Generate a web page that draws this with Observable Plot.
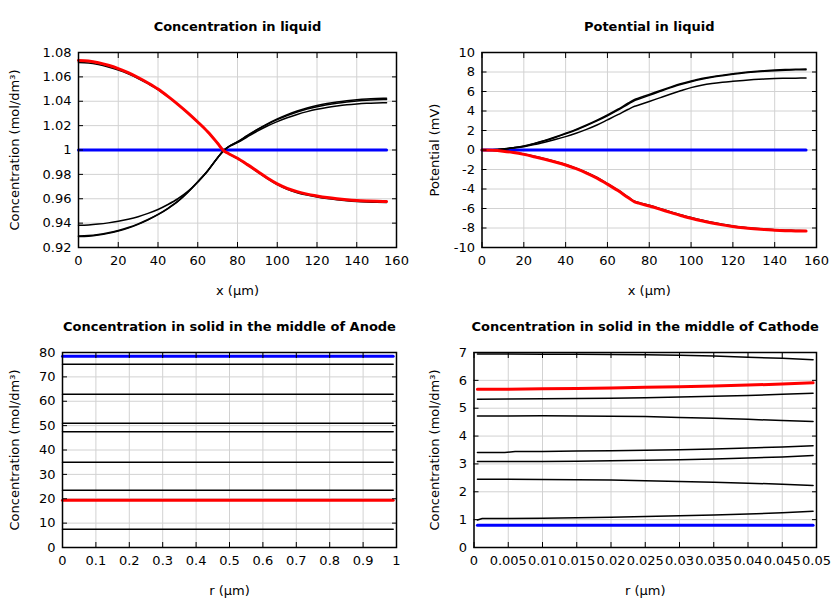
<!DOCTYPE html>
<html>
<head>
<meta charset="utf-8">
<script src="https://cdn.jsdelivr.net/npm/d3@7"></script>
<script src="https://cdn.jsdelivr.net/npm/@observablehq/plot@0.6"></script>
<style>
  body { margin: 0; background: #fff; }
  #wrap { position: relative; width: 840px; height: 600px; background: #fff; }
  .p { position: absolute; }
</style>
</head>
<body>
<div id="wrap"></div>
<script>
// ---------- Panel 1 & 2: liquid profiles (x in µm) ----------
const xLiquid = [0,5,10,15,20,25,30,35,40,45,50,55,60,65,70,73,75,80,85,90,95,100,105,110,115,120,125,130,135,140,145,150,155];
const xLiquidEnds = [0, 155];

const concRed = [1.0735,1.0730,1.0716,1.0695,1.0668,1.0635,1.0595,1.0550,1.0500,1.0440,1.0375,1.0305,1.0230,1.0150,1.0055,0.9995,0.9975,0.9932,0.9880,0.9825,0.9770,0.9722,0.9685,0.9658,0.9638,0.9623,0.9610,0.9600,0.9592,0.9586,0.9582,0.9579,0.9577];
const concBlackB = [1.0718,1.0714,1.0701,1.0681,1.0656,1.0625,1.0587,1.0544,1.0496,1.0437,1.0373,1.0304,1.0229,1.0150,1.0055,0.9995,0.9974,0.9930,0.9877,0.9821,0.9765,0.9716,0.9678,0.9650,0.9630,0.9615,0.9602,0.9592,0.9584,0.9578,0.9574,0.9571,0.9570];
const concBlackC = [0.9295,0.9298,0.9307,0.9321,0.9340,0.9364,0.9394,0.9430,0.9472,0.9522,0.9580,0.9655,0.9740,0.9830,0.9937,0.9995,1.0022,1.0068,1.0120,1.0170,1.0215,1.0255,1.0290,1.0320,1.0345,1.0365,1.0381,1.0394,1.0404,1.0412,1.0418,1.0422,1.0425];
const concBlackD = [0.9290,0.9293,0.9302,0.9316,0.9335,0.9359,0.9390,0.9427,0.9469,0.9519,0.9578,0.9652,0.9737,0.9828,0.9936,0.9995,1.0022,1.0066,1.0117,1.0166,1.0210,1.0249,1.0283,1.0312,1.0336,1.0355,1.0371,1.0384,1.0394,1.0402,1.0408,1.0412,1.0415];
const concBlackE = [0.9382,0.9385,0.9392,0.9402,0.9415,0.9432,0.9453,0.9480,0.9512,0.9553,0.9600,0.9660,0.9738,0.9830,0.9937,0.9995,1.0020,1.0060,1.0108,1.0155,1.0197,1.0233,1.0265,1.0292,1.0315,1.0334,1.0349,1.0361,1.0371,1.0378,1.0383,1.0386,1.0388];
const concBlue = [1.0, 1.0];

const potRed = [0,-0.03,-0.12,-0.26,-0.45,-0.69,-0.95,-1.23,-1.54,-1.92,-2.36,-2.88,-3.50,-4.16,-4.90,-5.32,-5.45,-5.74,-6.06,-6.40,-6.72,-7.00,-7.26,-7.49,-7.68,-7.85,-7.98,-8.08,-8.16,-8.22,-8.27,-8.30,-8.32];
const potBlackB = [0,-0.02,-0.10,-0.23,-0.41,-0.64,-0.89,-1.17,-1.48,-1.86,-2.30,-2.82,-3.44,-4.10,-4.84,-5.26,-5.39,-5.67,-5.99,-6.33,-6.65,-6.93,-7.19,-7.42,-7.62,-7.79,-7.93,-8.03,-8.11,-8.17,-8.22,-8.25,-8.27];
const potBlackC = [0,0.03,0.11,0.24,0.41,0.68,0.98,1.33,1.71,2.12,2.57,3.06,3.60,4.18,4.82,5.18,5.33,5.70,6.08,6.45,6.80,7.08,7.33,7.52,7.68,7.82,7.95,8.05,8.13,8.20,8.25,8.28,8.30];
const potBlackD = [0,0.03,0.11,0.23,0.39,0.65,0.94,1.28,1.65,2.05,2.50,2.98,3.51,4.08,4.71,5.07,5.22,5.60,5.99,6.37,6.72,7.01,7.26,7.46,7.62,7.76,7.89,7.99,8.07,8.14,8.19,8.22,8.24];
const potBlackE = [0,0.02,0.09,0.20,0.34,0.55,0.80,1.07,1.37,1.72,2.12,2.57,3.09,3.62,4.18,4.48,4.62,4.98,5.35,5.72,6.07,6.40,6.64,6.82,6.95,7.05,7.14,7.22,7.28,7.33,7.36,7.37,7.38];
const potBlue = [0, 0];

// ---------- Panel 3: anode solid (r in µm) ----------
const rAnode = [0, 0.99];
const anodeBlue = [78.5, 78.5];
const anodeBlack1 = [75.2, 75.2];
const anodeBlack2 = [62.9, 62.9];
const anodeBlack3 = [51.0, 51.0];
const anodeBlack4 = [47.5, 47.5];
const anodeBlack5 = [35.0, 35.0];
const anodeBlack6 = [23.5, 23.5];
const anodeBlack7 = [7.5, 7.5];
const anodeRed = [19.4, 19.4];

// ---------- Panel 4: cathode solid (r in µm) ----------
const rCathode = [0.0005,0.005,0.01,0.015,0.02,0.025,0.03,0.035,0.04,0.045,0.0495];
const rCathodeB4 = [0.0005,0.0045,0.006,0.01,0.015,0.02,0.025,0.03,0.035,0.04,0.045,0.0495];
const rCathodeB7 = [0.0005,0.0012,0.005,0.01,0.015,0.02,0.025,0.03,0.035,0.04,0.045,0.0495];
const cathBlack1 = [6.95,6.95,6.94,6.94,6.93,6.92,6.90,6.87,6.83,6.79,6.74];
const cathRed    = [5.68,5.68,5.70,5.71,5.73,5.75,5.77,5.80,5.83,5.87,5.91];
const cathBlack2 = [5.32,5.33,5.34,5.35,5.36,5.38,5.40,5.43,5.46,5.50,5.54];
const cathBlack3 = [4.72,4.72,4.73,4.72,4.71,4.70,4.67,4.64,4.60,4.56,4.52];
const cathBlack4 = [3.41,3.41,3.45,3.45,3.46,3.47,3.49,3.51,3.54,3.57,3.61,3.65];
const cathBlack5 = [3.09,3.09,3.09,3.10,3.11,3.13,3.15,3.18,3.21,3.25,3.30];
const cathBlack6 = [2.45,2.45,2.44,2.43,2.42,2.40,2.37,2.34,2.31,2.27,2.23];
const cathBlack7 = [0.99,1.04,1.04,1.05,1.07,1.09,1.11,1.14,1.17,1.20,1.25,1.30];
const rCathodeEnds = [0.0005, 0.0495];
const cathBlue = [0.80, 0.80];

// ---------- ticks ----------
const xTicksLiquid = [0,20,40,60,80,100,120,140,160];
const yTicksConc = [0.92,0.94,0.96,0.98,1.0,1.02,1.04,1.06,1.08];
const yTicksPot = [-10,-8,-6,-4,-2,0,2,4,6,8,10];
const xTicksAnode = [0,0.1,0.2,0.3,0.4,0.5,0.6,0.7,0.8,0.9,1];
const yTicksAnode = [0,10,20,30,40,50,60,70,80];
const xTicksCathode = [0,0.005,0.01,0.015,0.02,0.025,0.03,0.035,0.04,0.045,0.05];
const yTicksCathode = [0,1,2,3,4,5,6,7];

// ---------- helpers ----------
const pts = (xs, ys) => xs.map((x, i) => ({x, y: ys[i]}));
const fmt = d => String(+(+d).toFixed(6));

function panel({left, top, ml, xDomain, yDomain, xTicks, yTicks, title, xLabel, yLabel, yLabelX, series, curve}) {
  const lines = series.map(s => Plot.line(pts(s.x, s.y), {
    x: "x", y: "y", stroke: s.color, strokeWidth: s.w, curve: curve
  }));
  const svg = Plot.plot({
    width: 420, height: 300,
    marginLeft: ml, marginRight: 24, marginTop: 52, marginBottom: 53,
    x: {domain: xDomain, label: null},
    y: {domain: yDomain, label: null},
    style: {fontFamily: "DejaVu Sans", fontSize: "13px", color: "black", background: "white", overflow: "visible"},
    marks: [
      Plot.gridX(xTicks, {stroke: "#d2d2d2", strokeOpacity: 1, strokeWidth: 1}),
      Plot.gridY(yTicks, {stroke: "#d2d2d2", strokeOpacity: 1, strokeWidth: 1}),
      ...lines,
      Plot.axisX(xTicks, {anchor: "bottom", tickSize: -5, tickPadding: 13, tickFormat: fmt, label: null}),
      Plot.axisX(xTicks, {anchor: "top", tickSize: -5, tickFormat: () => "", label: null}),
      Plot.axisY(yTicks, {anchor: "left", tickSize: -5, tickPadding: 12, tickFormat: fmt, label: null}),
      Plot.axisY(yTicks, {anchor: "right", tickSize: -5, tickFormat: () => "", label: null}),
      Plot.frame({stroke: "black", strokeWidth: 1.5}),
      Plot.text([title], {text: d => d, frameAnchor: "top", dy: -26, lineAnchor: "middle", fontWeight: "bold", fontSize: 13}),
      Plot.text([xLabel], {text: d => d, frameAnchor: "bottom", dy: 43, lineAnchor: "middle", fontSize: 13}),
      Plot.text([yLabel], {text: d => d, frameAnchor: "left", dx: yLabelX - ml, rotate: -90, textAnchor: "middle", lineAnchor: "middle", fontSize: 13})
    ]
  });
  const div = document.createElement("div");
  div.className = "p";
  div.style.left = left + "px";
  div.style.top = top + "px";
  div.appendChild(svg);
  document.getElementById("wrap").appendChild(div);
}

const RED = "#ff0000", BLUE = "#0000ff", BLACK = "#000000";

panel({
  left: 0, top: 0, ml: 78, xDomain: [0, 160], yDomain: [0.92, 1.08],
  xTicks: xTicksLiquid, yTicks: yTicksConc,
  title: "Concentration in liquid", xLabel: "x (µm)", yLabel: "Concentration (mol/dm³)", yLabelX: 14,
  curve: "monotone-x",
  series: [
    {x: xLiquidEnds, y: concBlue, color: BLUE, w: 3},
    {x: xLiquid, y: concBlackE, color: BLACK, w: 1.5},
    {x: xLiquid, y: concBlackD, color: BLACK, w: 1.5},
    {x: xLiquid, y: concBlackC, color: BLACK, w: 1.5},
    {x: xLiquid, y: concBlackB, color: BLACK, w: 1.5},
    {x: xLiquid, y: concRed, color: RED, w: 3}
  ]
});

panel({
  left: 420, top: 0, ml: 61.5, xDomain: [0, 160], yDomain: [-10, 10],
  xTicks: xTicksLiquid, yTicks: yTicksPot,
  title: "Potential in liquid", xLabel: "x (µm)", yLabel: "Potential (mV)", yLabelX: 14,
  curve: "monotone-x",
  series: [
    {x: xLiquidEnds, y: potBlue, color: BLUE, w: 3},
    {x: xLiquid, y: potBlackE, color: BLACK, w: 1.5},
    {x: xLiquid, y: potBlackD, color: BLACK, w: 1.5},
    {x: xLiquid, y: potBlackC, color: BLACK, w: 1.5},
    {x: xLiquid, y: potBlackB, color: BLACK, w: 1.5},
    {x: xLiquid, y: potRed, color: RED, w: 3}
  ]
});

panel({
  left: 0, top: 300, ml: 62, xDomain: [0, 1], yDomain: [0, 80],
  xTicks: xTicksAnode, yTicks: yTicksAnode,
  title: "Concentration in solid in the middle of Anode", xLabel: "r (µm)", yLabel: "Concentration (mol/dm³)", yLabelX: 14,
  curve: "linear",
  series: [
    {x: rAnode, y: anodeBlue, color: BLUE, w: 3},
    {x: rAnode, y: anodeBlack1, color: BLACK, w: 1.5},
    {x: rAnode, y: anodeBlack2, color: BLACK, w: 1.5},
    {x: rAnode, y: anodeBlack3, color: BLACK, w: 1.5},
    {x: rAnode, y: anodeBlack4, color: BLACK, w: 1.5},
    {x: rAnode, y: anodeBlack5, color: BLACK, w: 1.5},
    {x: rAnode, y: anodeBlack6, color: BLACK, w: 1.5},
    {x: rAnode, y: anodeBlack7, color: BLACK, w: 1.5},
    {x: rAnode, y: anodeRed, color: RED, w: 3}
  ]
});

panel({
  left: 420, top: 300, ml: 53.5, xDomain: [0, 0.05], yDomain: [0, 7],
  xTicks: xTicksCathode, yTicks: yTicksCathode,
  title: "Concentration in solid in the middle of Cathode", xLabel: "r (µm)", yLabel: "Concentration (mol/dm³)", yLabelX: 14,
  curve: "linear",
  series: [
    {x: rCathodeEnds, y: cathBlue, color: BLUE, w: 3},
    {x: rCathode, y: cathBlack1, color: BLACK, w: 1.5},
    {x: rCathode, y: cathBlack2, color: BLACK, w: 1.5},
    {x: rCathode, y: cathBlack3, color: BLACK, w: 1.5},
    {x: rCathodeB4, y: cathBlack4, color: BLACK, w: 1.5},
    {x: rCathode, y: cathBlack5, color: BLACK, w: 1.5},
    {x: rCathode, y: cathBlack6, color: BLACK, w: 1.5},
    {x: rCathodeB7, y: cathBlack7, color: BLACK, w: 1.5},
    {x: rCathode, y: cathRed, color: RED, w: 3}
  ]
});
</script>
</body>
</html>
